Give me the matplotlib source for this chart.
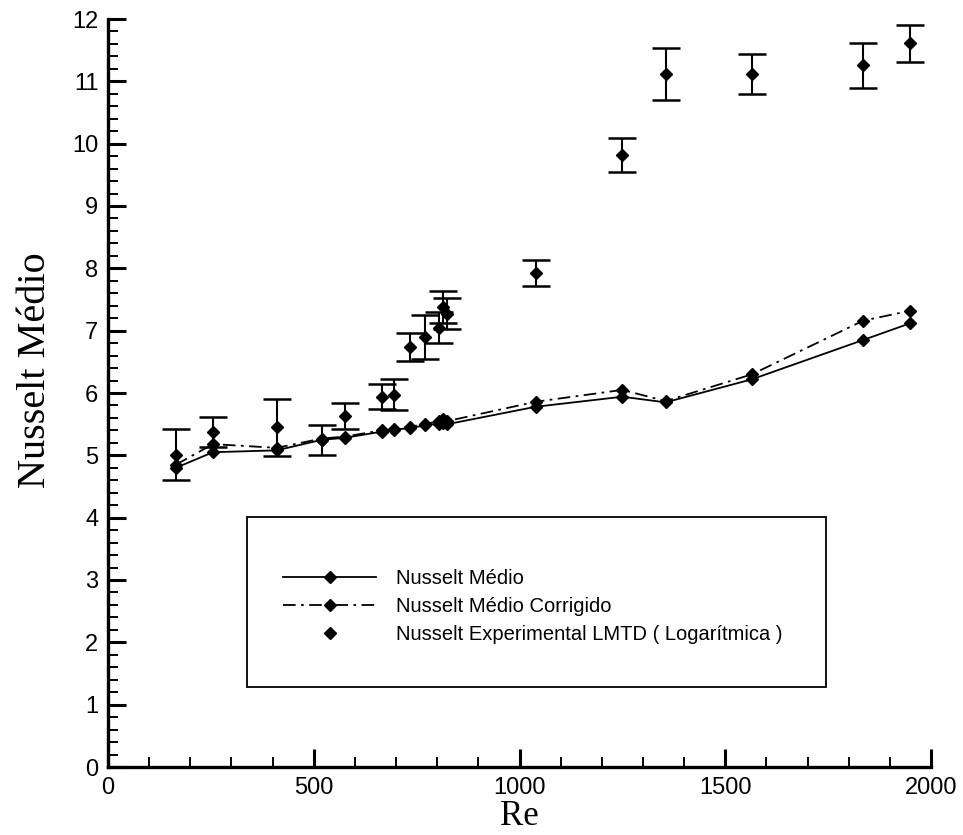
import matplotlib
matplotlib.use('Agg')
import matplotlib.pyplot as plt
from matplotlib.patches import Rectangle
from matplotlib.ticker import MultipleLocator

# Reynolds numbers of the tests
re = [165, 255, 410, 520, 575, 665, 695, 735, 770, 805, 815, 825,
      1040, 1250, 1355, 1565, 1835, 1950]

# Nusselt medio (solid) and corrected (dash-dot)
nu_medio = [4.80, 5.05, 5.08, 5.25, 5.28, 5.38, 5.41, 5.44, 5.48, 5.51, 5.52, 5.50,
            5.78, 5.94, 5.85, 6.22, 6.85, 7.12]
nu_corrigido = [4.85, 5.18, 5.12, 5.27, 5.30, 5.40, 5.42, 5.46, 5.50, 5.55, 5.58, 5.55,
                5.86, 6.05, 5.87, 6.30, 7.16, 7.32]

# experimental LMTD values and their uncertainty
nu_exp = [5.01, 5.38, 5.45, 5.25, 5.63, 5.94, 5.97, 6.74, 6.90, 7.05, 7.38, 7.27,
          7.93, 9.82, 11.12, 11.12, 11.26, 11.61]
nu_err = [0.41, 0.24, 0.46, 0.24, 0.21, 0.20, 0.25, 0.23, 0.35, 0.25, 0.25, 0.25,
          0.21, 0.27, 0.42, 0.32, 0.36, 0.30]

labels = ['Nusselt Médio', 'Nusselt Médio Corrigido',
          'Nusselt Experimental LMTD ( Logarítmica )']

fig = plt.figure(figsize=(9.63, 8.35), dpi=100)
ax = fig.add_axes([108 / 963, 68 / 835, 823 / 963, 748 / 835])

# model curves
ax.plot(re, nu_medio, '-', color='black', lw=1.3, marker='D', ms=6.5, label=labels[0])
ax.plot(re, nu_corrigido, color='black', lw=1.3, ls=(0, (7, 3, 1.5, 3)),
        marker='D', ms=6.5, label=labels[1])

# experimental points with error bars
ax.errorbar(re, nu_exp, yerr=nu_err, fmt='none', ecolor='black',
            elinewidth=1.5, capsize=10, capthick=1.8)
ax.plot(re, nu_exp, 'D', color='black', ms=6.5, label=labels[2])

ax.set_xlim(0, 2000)
ax.set_ylim(0, 12)

# axes: only left and bottom, thick, inward ticks
for side in ['top', 'right']:
    ax.spines[side].set_visible(False)
for side in ['left', 'bottom']:
    ax.spines[side].set_linewidth(2.4)

ax.xaxis.set_major_locator(MultipleLocator(500))
ax.xaxis.set_minor_locator(MultipleLocator(100))
ax.yaxis.set_major_locator(MultipleLocator(1))
ax.yaxis.set_minor_locator(MultipleLocator(0.2))
ax.tick_params(which='major', direction='in', length=13, width=2.2, pad=7,
               labelsize=17, top=False, right=False)
ax.tick_params(which='minor', direction='in', length=7, width=1.4,
               top=False, right=False)
for lab in ax.get_xticklabels() + ax.get_yticklabels():
    lab.set_family('Liberation Sans')

ax.set_xlabel('Re', family='Liberation Serif', fontsize=25, labelpad=1)
ax.set_ylabel('Nusselt Médio', family='Liberation Serif', fontsize=29)
ax.yaxis.set_label_coords(-0.066, 0.53)

# legend box
ax.add_patch(Rectangle((0.169, 0.107), 0.703, 0.227, transform=ax.transAxes,
                       fill=False, ec='black', lw=1.3))
leg = ax.legend(loc='center left', bbox_to_anchor=(0.213, 0.215), frameon=False,
                numpoints=1, handlelength=4.6, handletextpad=1.0, labelspacing=0.45,
                borderpad=0, borderaxespad=0,
                prop={'family': 'Liberation Sans', 'size': 14.5})

fig.savefig('out.png', dpi=100)
